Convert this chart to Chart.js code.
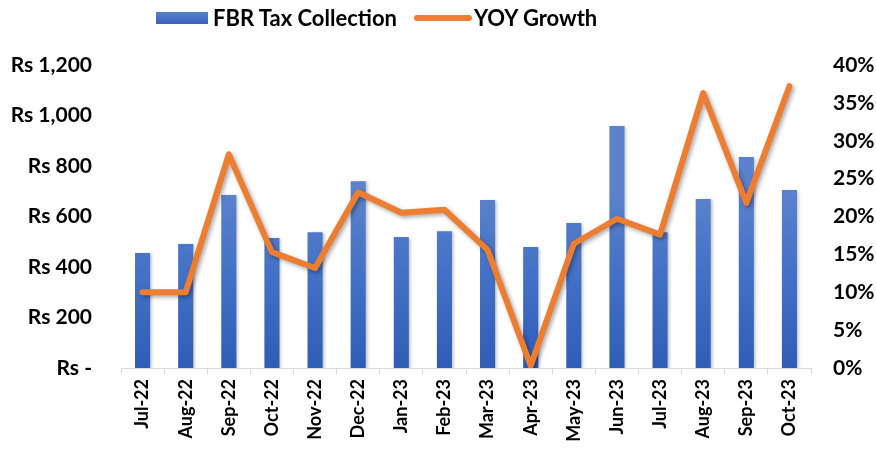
<!DOCTYPE html>
<html>
<head>
<meta charset="utf-8">
<script src="https://cdn.jsdelivr.net/npm/chart.js@4/dist/chart.umd.min.js"></script>
<style>
  html, body { margin: 0; padding: 0; background: #fff; }
  #wrap { position: relative; width: 876px; height: 449px; }
  #legend { position: absolute; top: 0; left: 0; width: 876px; height: 36px; font: bold 22px Lato, sans-serif; color: #000; }
  .lg-item { position: absolute; top: 4px; line-height: 28px; white-space: nowrap; }
  .lg-bar { position: absolute; left: 156px; top: 12px; width: 52px; height: 12px; background: linear-gradient(#5a80cc, #3563bb); }
  .lg-line { position: absolute; left: 414px; top: 15px; width: 58px; height: 6px; border-radius: 3px; background: #ed7d31; }
</style>
</head>
<body>
<div id="wrap">
  <canvas id="chart" width="876" height="449"></canvas>
  <div id="legend">
    <div class="lg-bar"></div>
    <div class="lg-item" style="left:213px">FBR Tax Collection</div>
    <div class="lg-line"></div>
    <div class="lg-item" style="left:474px">YOY Growth</div>
  </div>
</div>
<script>
const months = ['Jul-22', 'Aug-22', 'Sep-22', 'Oct-22', 'Nov-22', 'Dec-22', 'Jan-23', 'Feb-23',
  'Mar-23', 'Apr-23', 'May-23', 'Jun-23', 'Jul-23', 'Aug-23', 'Sep-23', 'Oct-23'];
// Rs billion
const taxCollection = [455, 491, 685, 515, 538, 740, 519, 542, 665, 479, 574, 958, 538, 669, 836, 705];
// percent
const yoyGrowth = [10.0, 10.0, 28.2, 15.3, 13.2, 23.2, 20.5, 20.9, 15.6, 0.3, 16.4, 19.7, 17.6, 36.3, 21.8, 37.2];

const FONT = 'Lato, sans-serif';

// per-bar vertical gradient + soft shadows, like the office chart
const stylePlugin = {
  id: 'barStyle',
  beforeDatasetDraw(chart, args) {
    const ctx = chart.ctx;
    const meta = args.meta;
    ctx.save();
    if (meta.type === 'bar') {
      meta.data.forEach(bar => {
        const g = ctx.createLinearGradient(0, bar.y, 0, bar.base);
        g.addColorStop(0, '#5b82cd');
        g.addColorStop(0.5, '#4270c6');
        g.addColorStop(1, '#2f5db6');
        bar.options.backgroundColor = g;
      });
      ctx.shadowColor = 'rgba(0,0,0,0.25)';
      ctx.shadowBlur = 3;
      ctx.shadowOffsetX = 2;
      ctx.shadowOffsetY = 1;
    } else {
      ctx.shadowColor = 'rgba(0,0,0,0.35)';
      ctx.shadowBlur = 4;
      ctx.shadowOffsetX = 2;
      ctx.shadowOffsetY = 2;
    }
  },
  afterDatasetDraw(chart) {
    chart.ctx.restore();
  },
};

new Chart(document.getElementById('chart'), {
  data: {
    labels: months,
    datasets: [
      {
        type: 'line',
        label: 'YOY Growth',
        data: yoyGrowth,
        yAxisID: 'yPct',
        borderColor: '#ed7d31',
        backgroundColor: '#ed7d31',
        borderWidth: 6,
        borderCapStyle: 'round',
        borderJoinStyle: 'round',
        pointRadius: 0,
        tension: 0,
        order: 0,
      },
      {
        type: 'bar',
        label: 'FBR Tax Collection',
        data: taxCollection,
        yAxisID: 'yRs',
        backgroundColor: '#4472c4',
        barPercentage: 0.7,
        categoryPercentage: 0.5,
        order: 1,
      },
    ],
  },
  options: {
    responsive: false,
    animation: false,
    layout: { padding: { top: 65, left: 0, right: 0, bottom: 0 } },
    plugins: {
      legend: { display: false },
      tooltip: { enabled: false },
    },
    scales: {
      x: {
        offset: true,
        grid: {
          display: true,
          offset: true,
          drawOnChartArea: false,
          drawTicks: true,
          tickLength: 6,
          color: '#d9d9d9',
        },
        border: { display: true, color: '#d9d9d9', width: 1 },
        ticks: {
          minRotation: 90,
          maxRotation: 90,
          autoSkip: false,
          padding: 5,
          color: '#000',
          font: { family: FONT, size: 18, weight: 'bold' },
        },
        afterFit(scale) { scale.height = 81; },
      },
      yRs: {
        position: 'left',
        min: 0,
        max: 1200,
        grid: { display: false, drawTicks: false },
        border: { display: false },
        ticks: {
          stepSize: 200,
          padding: 29,
          color: '#000',
          font: { family: FONT, size: 21, weight: 'bold' },
          callback: v => v === 0 ? 'Rs -' : 'Rs ' + v.toLocaleString('en-US'),
        },
        afterFit(scale) { scale.width = 121; },
      },
      yPct: {
        position: 'right',
        min: 0,
        max: 40,
        grid: { display: false, drawTicks: false },
        border: { display: false },
        ticks: {
          stepSize: 5,
          padding: 22,
          color: '#000',
          font: { family: FONT, size: 21, weight: 'bold' },
          callback: v => v + '%',
        },
        afterFit(scale) { scale.width = 65; },
      },
    },
  },
  plugins: [stylePlugin],
});
</script>
</body>
</html>
